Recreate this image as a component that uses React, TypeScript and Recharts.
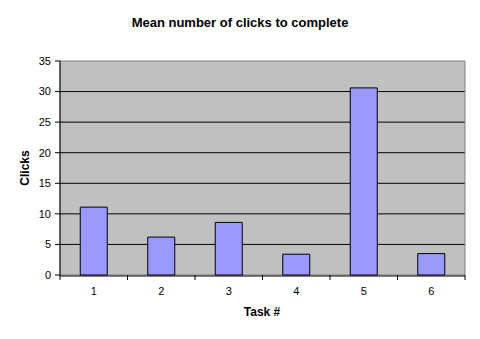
import React from "react";
import { BarChart, Bar, XAxis, YAxis, CartesianGrid, ReferenceArea } from "recharts";

const tasks = ["1", "2", "3", "4", "5", "6"];
const meanClicks = [11.1, 6.2, 8.6, 3.4, 30.6, 3.5];
const yTicks = [0, 5, 10, 15, 20, 25, 30, 35];
const edgeTicks = [0, 1, 2, 3, 4, 5, 6];

// pos is only used by the hidden-label axis that draws tick marks between categories
const data = tasks.map((task, i) => ({ task, clicks: meanClicks[i], pos: i + 0.5 }));

const font = "'Liberation Sans', Arial, sans-serif";

export default function App() {
  return (
    <div style={{ position: "fixed", left: 0, top: 0, width: 480, height: 339, background: "#fff", fontFamily: font }}>
      <div style={{ position: "absolute", top: 15, left: 0, width: 480, textAlign: "center", fontWeight: "bold", fontSize: 13 }}>
        Mean number of clicks to complete
      </div>
      <div
        style={{
          position: "absolute",
          left: 25,
          top: 168,
          transform: "translate(-50%, -50%) rotate(-90deg)",
          fontWeight: "bold",
          fontSize: 12,
        }}
      >
        Clicks
      </div>
      <div style={{ position: "absolute", left: 262, top: 312, transform: "translate(-50%, -50%)", fontWeight: "bold", fontSize: 12 }}>
        Task #
      </div>
      <BarChart
        width={480}
        height={339}
        data={data}
        margin={{ top: 61, right: 15, bottom: 34, left: 30 }}
        barCategoryGap="30%"
      >
        <CartesianGrid xAxisId="b" fill="#C0C0C0" stroke="#000" vertical={false} horizontalValues={[5, 10, 15, 20, 25, 30]} />
        <ReferenceArea xAxisId="b" y1={0} y2={35} fill="none" stroke="#808080" ifOverflow="visible" />
        <XAxis
          xAxisId="a"
          dataKey="pos"
          type="number"
          domain={[0, 6]}
          ticks={edgeTicks}
          interval={0}
          allowDataOverflow
          height={1}
          axisLine={false}
          tickLine={{ stroke: "#000" }}
          tickSize={5}
          tick={{ fontSize: 1, fill: "none" }}
          tickFormatter={() => " "}
        />
        <XAxis
          xAxisId="b"
          dataKey="task"
          height={29}
          axisLine={{ stroke: "#000" }}
          tickLine={false}
          tickSize={0}
          tickMargin={11}
          tick={{ fill: "#000", fontSize: 11, fontFamily: font }}
        />
        <YAxis
          domain={[0, 35]}
          ticks={yTicks}
          width={30}
          axisLine={{ stroke: "#000" }}
          tickLine={{ stroke: "#000" }}
          tickSize={5}
          tickMargin={4}
          tick={{ fill: "#000", fontSize: 11, fontFamily: font }}
        />
        <Bar xAxisId="b" dataKey="clicks" fill="#9999FF" stroke="#000" strokeWidth={1} isAnimationActive={false} />
      </BarChart>
    </div>
  );
}
